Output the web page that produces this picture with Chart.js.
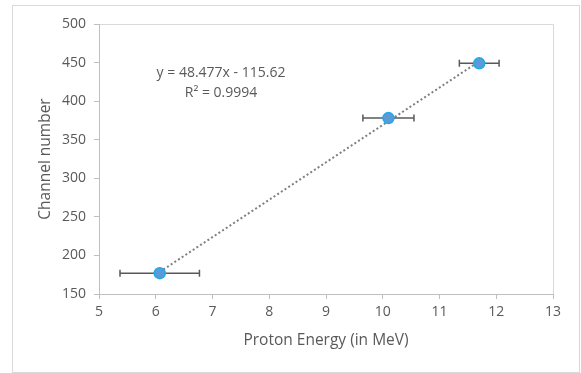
<!DOCTYPE html>
<html>
<head>
<meta charset="utf-8">
<script src="https://cdn.jsdelivr.net/npm/chart.js@4.4.0/dist/chart.umd.min.js"></script>
<style>
  html, body { margin: 0; padding: 0; background: #fff; }
  #wrap { width: 581px; height: 373px; }
</style>
</head>
<body>
<div id="wrap"><canvas id="grafico" width="581" height="373"></canvas></div>
<script>
// --- dados ---
const energia = [6.07, 10.1, 11.7];        // Proton Energy (MeV)
const canal = [177, 378, 449];             // Channel number
const erroEnergia = [0.7, 0.45, 0.35];     // barras de erro horizontais (+/-)
const xTicks = [5, 6, 7, 8, 9, 10, 11, 12, 13];
const yTicks = [150, 200, 250, 300, 350, 400, 450, 500];
const inclinacao = 48.477;
const intercepto = -115.62;
const equacao = ['y = 48.477x - 115.62', 'R² = 0.9994'];

const FONTE = "'Open Sans', 'Liberation Sans', sans-serif";
const CINZA_TEXTO = '#595959';

// linha de tendência (regressão linear do Excel) entre o menor e o maior x
const xMin = Math.min(...energia), xMax = Math.max(...energia);
const tendencia = [xMin, xMax].map(x => ({ x: x, y: inclinacao * x + intercepto }));

const pontos = energia.map((e, i) => ({ x: e, y: canal[i] }));

// --- plugins ---
const fundoPlugin = {
    id: 'fundo',
    beforeDraw(chart) {
        const ctx = chart.ctx;
        ctx.save();
        ctx.fillStyle = '#fff';
        ctx.fillRect(0, 0, chart.width, chart.height);
        ctx.strokeStyle = '#D9D9D9';
        ctx.lineWidth = 1;
        ctx.strokeRect(12.5, 5.5, 567, 367);
        // borda superior e direita da área de plotagem
        const a = chart.chartArea;
        ctx.beginPath();
        ctx.moveTo(a.left, Math.round(a.top) + 0.5);
        ctx.lineTo(Math.round(a.right) + 0.5, Math.round(a.top) + 0.5);
        ctx.lineTo(Math.round(a.right) + 0.5, a.bottom);
        ctx.stroke();
        ctx.restore();
    }
};

// barras de erro horizontais, desenhadas antes dos marcadores
const errosPlugin = {
    id: 'erros',
    beforeDatasetDraw(chart, args) {
        if (args.index !== 1) return;
        const ctx = chart.ctx;
        const sx = chart.scales.x, sy = chart.scales.y;
        ctx.save();
        ctx.strokeStyle = '#595959';
        ctx.lineWidth = 1.5;
        energia.forEach((e, i) => {
            const y = sy.getPixelForValue(canal[i]);
            const x1 = sx.getPixelForValue(e - erroEnergia[i]);
            const x2 = sx.getPixelForValue(e + erroEnergia[i]);
            ctx.beginPath();
            ctx.moveTo(x1, y); ctx.lineTo(x2, y);
            ctx.moveTo(x1, y - 3.5); ctx.lineTo(x1, y + 3.5);
            ctx.moveTo(x2, y - 3.5); ctx.lineTo(x2, y + 3.5);
            ctx.stroke();
        });
        ctx.restore();
    }
};

const equacaoPlugin = {
    id: 'equacao',
    afterDraw(chart, args, opts) {
        const ctx = chart.ctx;
        const x = chart.scales.x.getPixelForValue(opts.x);
        const y = chart.scales.y.getPixelForValue(opts.y);
        ctx.save();
        ctx.font = '14px ' + FONTE;
        ctx.fillStyle = CINZA_TEXTO;
        ctx.textAlign = 'center';
        ctx.textBaseline = 'middle';
        equacao.forEach((linha, i) => ctx.fillText(linha, x, y + i * 19.5));
        ctx.restore();
    }
};

new Chart(document.getElementById('grafico'), {
    type: 'scatter',
    data: {
        datasets: [
            {
                type: 'line',
                label: 'Linear',
                data: tendencia,
                borderColor: '#7F7F7F',
                borderWidth: 2,
                borderDash: [2, 2.4],
                pointRadius: 0,
                fill: false,
                order: 2
            },
            {
                label: 'Dados',
                data: pontos,
                backgroundColor: '#5B9BD5',
                borderColor: '#1FA8EC',
                borderWidth: 1.5,
                pointRadius: 5.5,
                order: 1
            }
        ]
    },
    options: {
        responsive: false,
        animation: false,
        devicePixelRatio: 1,
        layout: { padding: { top: 24, right: 28, left: 0, bottom: 0 } },
        plugins: {
            legend: { display: false },
            tooltip: { enabled: false },
            equacao: { x: 7.15, y: 436 }
        },
        scales: {
            x: {
                type: 'linear',
                min: 5, max: 13,
                afterBuildTicks: s => { s.ticks = xTicks.map(v => ({ value: v })); },
                afterFit: s => { s.height = 79; },
                grid: { drawOnChartArea: false, tickLength: 5, color: '#BFBFBF' },
                border: { color: '#BFBFBF' },
                ticks: { color: CINZA_TEXTO, font: { family: FONTE, size: 14 }, padding: 5, maxRotation: 0 },
                title: { display: true, text: 'Proton Energy (in MeV)', color: CINZA_TEXTO, font: { family: FONTE, size: 15.5 }, padding: { bottom: 23 } }
            },
            y: {
                type: 'linear',
                min: 150, max: 500,
                afterBuildTicks: s => { s.ticks = yTicks.map(v => ({ value: v })); },
                afterFit: s => { s.width = 99; },
                grid: { drawOnChartArea: false, tickLength: 5, color: '#BFBFBF' },
                border: { color: '#BFBFBF' },
                ticks: { color: CINZA_TEXTO, font: { family: FONTE, size: 14 }, padding: 8 },
                title: { display: true, text: 'Channel number', color: CINZA_TEXTO, font: { family: FONTE, size: 15.5 }, padding: { top: 36 } }
            }
        }
    },
    plugins: [fundoPlugin, errosPlugin, equacaoPlugin]
});
</script>
</body>
</html>
